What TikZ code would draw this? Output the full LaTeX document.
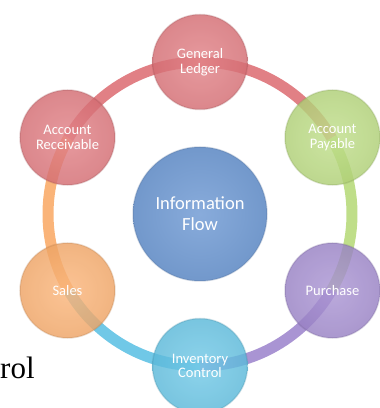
\documentclass[tikz,border=0pt]{standalone}
\usepackage{fontspec}
\setmainfont{Liberation Serif}
\newfontfamily\calfont{Carlito}
\usepackage{xcolor}
\usetikzlibrary{backgrounds,calc}
\definecolor{ledger-red}{RGB}{222,114,120}
\definecolor{payable-green}{RGB}{184,218,124}
\definecolor{purchase-purple}{RGB}{160,136,206}
\definecolor{stock-cyan}{RGB}{96,194,228}
\definecolor{sales-orange}{RGB}{250,172,106}
\definecolor{hub-blue}{RGB}{120,160,214}
\tikzset{
    flow-ring/.style = {line width=11pt, draw=#1, draw opacity=0.9},
    flow-ball/.style = {circle, minimum size=95pt, inner sep=0pt, align=center, text=white,
        font=\calfont\fontsize{14.5}{14.5}\selectfont, shading=radial, inner color=#1!88!white,
        outer color=#1!95!black, fill opacity=0.82, draw=#1!70!black, draw opacity=0.25, line width=1.5pt, text opacity=1},
    flow-hub/.style = {flow-ball=hub-blue, minimum size=134pt, fill opacity=1,
        font=\calfont\fontsize{18.5}{21}\selectfont},
}

\begin{document}
\begin{tikzpicture}[x=1pt, y=1pt]
\useasboundingbox (0,0) rectangle (380,408);
\node [flow-hub] (hub) at (200,194) {Information\\Flow};
\node [flow-ball=ledger-red] (ledger) at (200,346) {General\\Ledger};
\node [flow-ball=payable-green] (payable) at ($(hub)+(30:153)$) {Account\\Payable};
\node [flow-ball=purchase-purple] (purchase) at ($(hub)+(-30:153)$) {Purchase};
\node [flow-ball=stock-cyan] (stock) at ($(hub)+(-90:152)$) {Inventory\\Control};
\node [flow-ball=sales-orange] (sales) at ($(hub)+(210:153)$) {Sales};
\node [flow-ball=ledger-red] (receivable) at ($(hub)+(150:153)$) {Account\\Receivable};
% the ring under the balls
\begin{scope}[on background layer]
\draw [flow-ring=ledger-red] (ledger.center) arc[start angle=90, end angle=30, radius=152];
\draw [flow-ring=payable-green] ($(hub)+(30:152)$) arc[start angle=30, end angle=-30, radius=152];
\draw [flow-ring=purchase-purple] ($(hub)+(-30:152)$) arc[start angle=-30, end angle=-90, radius=152];
\draw [flow-ring=stock-cyan] (stock.center) arc[start angle=-90, end angle=-150, radius=152];
\draw [flow-ring=sales-orange] ($(hub)+(210:152)$) arc[start angle=210, end angle=150, radius=152];
\draw [flow-ring=ledger-red] ($(hub)+(150:152)$) arc[start angle=150, end angle=90, radius=152];
\end{scope}
\node [anchor=base west, inner sep=0pt, font=\fontsize{31}{31}\selectfont] (cut) at (0,30) {rol};
\end{tikzpicture}
\end{document}
